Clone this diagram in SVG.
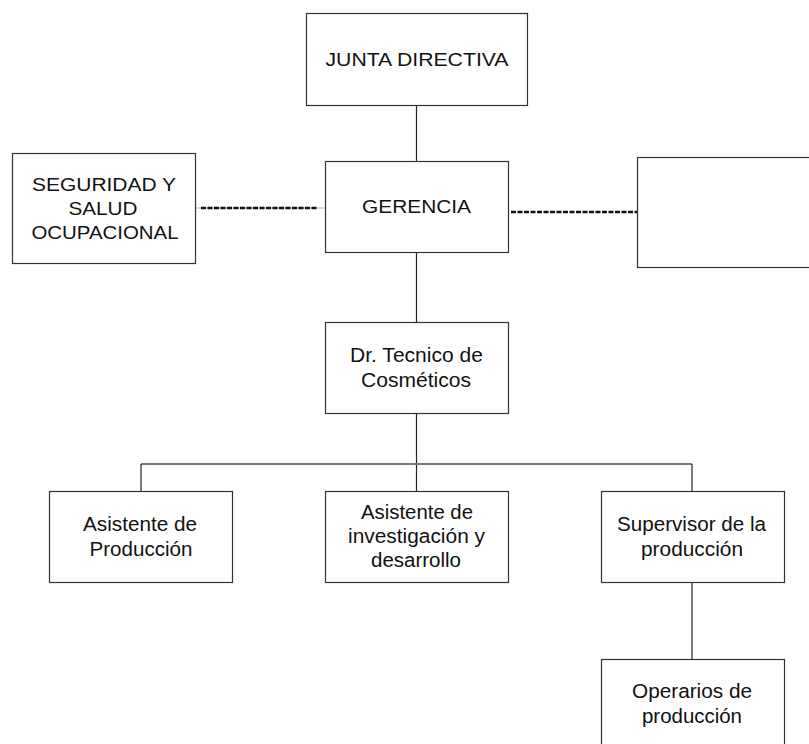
<svg xmlns="http://www.w3.org/2000/svg" width="809" height="744" viewBox="0 0 809 744">
<style>
.box{fill:#fff;stroke:#333;stroke-width:1.2}
.t{font-family:"Liberation Sans",Arial,sans-serif;font-size:18px;fill:#111;text-anchor:middle}
.l{font-size:20.5px}
.ln{stroke:#222;stroke-width:1.2;fill:none}
.br{stroke:#777;stroke-width:1.8;fill:none}
.dash{stroke:#111;stroke-width:2.5;stroke-dasharray:5 1.5;fill:none}
.thin{stroke:#bbb;stroke-width:1;fill:none}
</style>
<rect width="809" height="744" fill="#fff"/>
<g id="connectors">
<line class="ln" x1="416.5" y1="106" x2="416.5" y2="161"/>
<line class="ln" x1="416.5" y1="252" x2="416.5" y2="322"/>
<line class="ln" x1="416.5" y1="414" x2="416.5" y2="491"/>
<line class="br" x1="141" y1="464" x2="692" y2="464"/>
<line class="ln" x1="141" y1="464" x2="141" y2="491"/>
<line class="ln" x1="692" y1="464" x2="692" y2="491"/>
<line class="ln" x1="692" y1="583" x2="692" y2="659"/>
<line class="thin" x1="196" y1="208" x2="325" y2="208"/>
<line class="dash" x1="201" y1="208" x2="318" y2="208"/>
<line class="dash" x1="511" y1="212" x2="637" y2="212"/>
</g>
<g id="junta">
<rect class="box" x="306.5" y="13.5" width="221" height="92"/>
<text class="t" x="417" y="66" textLength="183" lengthAdjust="spacingAndGlyphs">JUNTA DIRECTIVA</text>
</g>
<g id="seguridad">
<rect class="box" x="12.5" y="153.5" width="183" height="110"/>
<text class="t" x="104" y="191" textLength="144" lengthAdjust="spacingAndGlyphs">SEGURIDAD Y</text>
<text class="t" x="103" y="215" textLength="69" lengthAdjust="spacingAndGlyphs">SALUD</text>
<text class="t" x="105" y="239" textLength="147" lengthAdjust="spacingAndGlyphs">OCUPACIONAL</text>
</g>
<g id="gerencia">
<rect class="box" x="325.5" y="161.5" width="183" height="91"/>
<text class="t" x="416.5" y="213" textLength="109" lengthAdjust="spacingAndGlyphs">GERENCIA</text>
</g>
<g id="vacio">
<rect class="box" x="637.5" y="157.5" width="180" height="110"/>
</g>
<g id="dr-tecnico">
<rect class="box" x="325.5" y="322.5" width="183" height="91"/>
<text class="t l" x="416.5" y="362" textLength="133" lengthAdjust="spacingAndGlyphs">Dr. Tecnico de</text>
<text class="t l" x="416" y="387" textLength="110" lengthAdjust="spacingAndGlyphs">Cosméticos</text>
</g>
<g id="asistente-produccion">
<rect class="box" x="49.5" y="491.5" width="183" height="91"/>
<text class="t l" x="140" y="531" textLength="114" lengthAdjust="spacingAndGlyphs">Asistente de</text>
<text class="t l" x="141" y="556" textLength="103" lengthAdjust="spacingAndGlyphs">Producción</text>
</g>
<g id="asistente-investigacion">
<rect class="box" x="325.5" y="491.5" width="183" height="91"/>
<text class="t l" x="417" y="519" textLength="112" lengthAdjust="spacingAndGlyphs">Asistente de</text>
<text class="t l" x="416.5" y="543" textLength="137" lengthAdjust="spacingAndGlyphs">investigación y</text>
<text class="t l" x="416" y="567" textLength="90" lengthAdjust="spacingAndGlyphs">desarrollo</text>
</g>
<g id="supervisor">
<rect class="box" x="601.5" y="491.5" width="183" height="91"/>
<text class="t l" x="691.5" y="531" textLength="149" lengthAdjust="spacingAndGlyphs">Supervisor de la</text>
<text class="t l" x="692" y="556" textLength="102" lengthAdjust="spacingAndGlyphs">producción</text>
</g>
<g id="operarios">
<rect class="box" x="601.5" y="659.5" width="183" height="95"/>
<text class="t l" x="692" y="698" textLength="120" lengthAdjust="spacingAndGlyphs">Operarios de</text>
<text class="t l" x="692" y="723" textLength="100" lengthAdjust="spacingAndGlyphs">producción</text>
</g>
</svg>
